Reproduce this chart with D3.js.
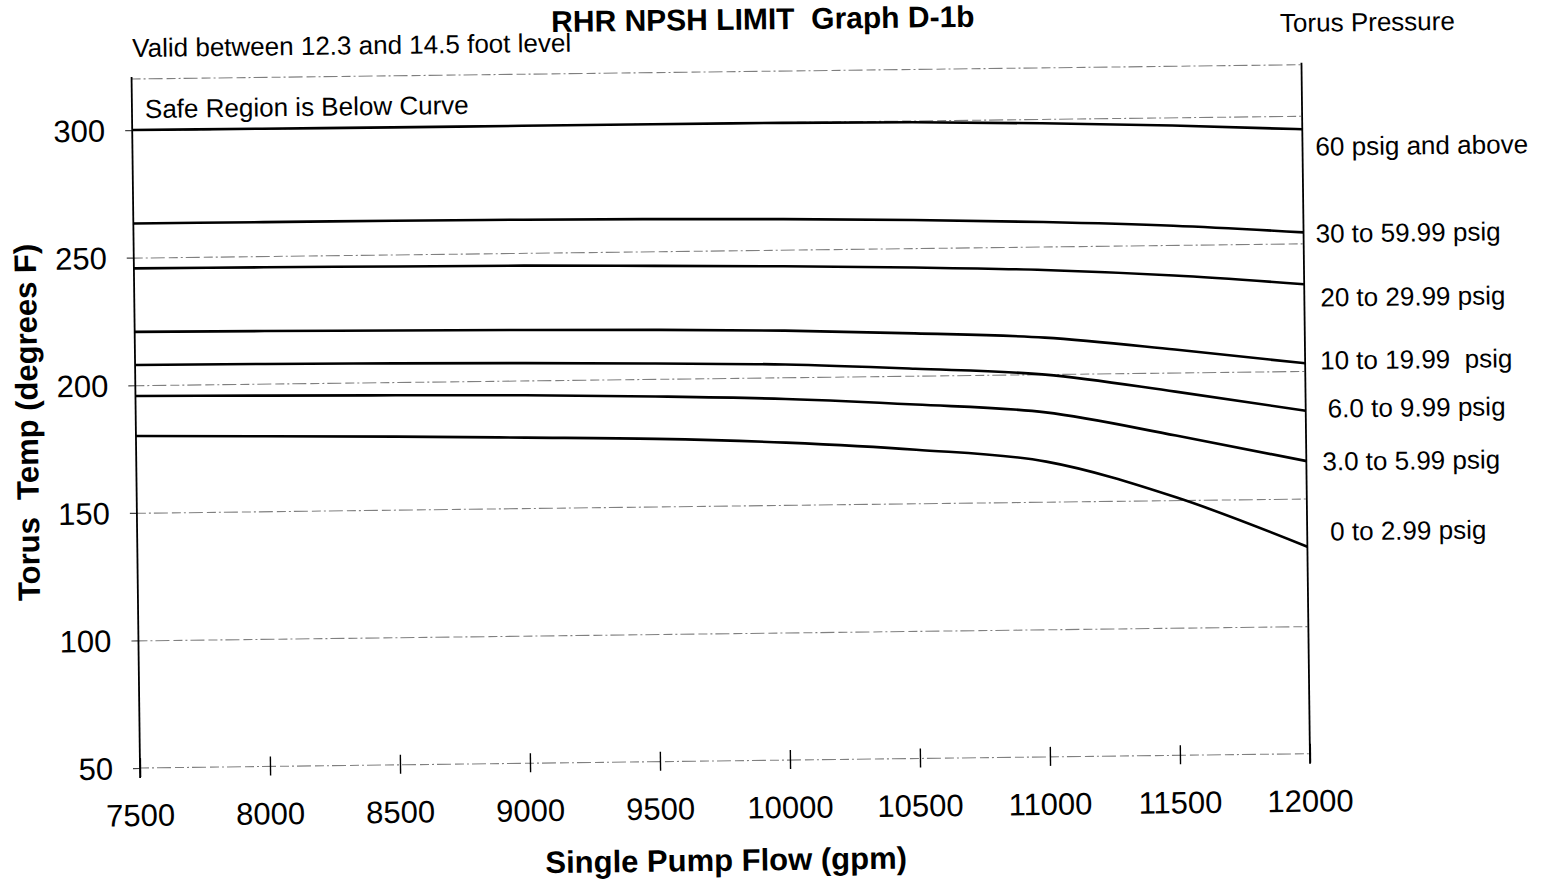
<!DOCTYPE html>
<html>
<head>
<meta charset="utf-8">
<script src="https://cdn.jsdelivr.net/npm/d3@7/dist/d3.min.js"></script>
<style>
  html, body { margin: 0; padding: 0; background: #fff; overflow: hidden; }
  svg { display: block; font-family: "Liberation Sans", Arial, Helvetica, sans-serif; }
</style>
</head>
<body>
<svg id="chart" width="1543" height="889"></svg>
<script>
// Single pump flow (gpm) at which each curve is defined
const flows = [7500, 8000, 8500, 9000, 9500, 10000, 10500, 11000, 11500, 12000];

// Torus temperature limit (degrees F) for each torus pressure band
const temp60  = [300.0, 299.9, 299.8, 299.8, 299.8, 299.7, 299.3, 298.3, 296.8, 294.7];
const temp30  = [263.4, 263.3, 263.2, 263.0, 262.6, 262.0, 261.0, 259.6, 257.5, 254.3];
const temp20  = [245.8, 245.6, 245.3, 245.0, 244.3, 243.5, 242.4, 240.8, 238.0, 234.0];
const temp10  = [220.9, 220.6, 220.2, 219.8, 219.2, 218.3, 216.6, 214.3, 209.0, 203.0];
const temp6   = [207.9, 207.7, 207.3, 206.8, 206.0, 205.0, 202.7, 199.8, 192.5, 184.4];
const temp3   = [195.8, 195.3, 194.8, 194.2, 193.1, 191.5, 188.7, 185.0, 175.3, 164.7];
const temp0   = [180.1, 179.4, 178.6, 177.6, 176.5, 174.4, 171.0, 165.7, 151.0, 131.1];

const pressureLabels = [
  "60 psig and above", "30 to 59.99 psig", "20 to 29.99 psig",
  "10 to 19.99  psig", "6.0 to 9.99 psig", "3.0 to 5.99 psig", "0 to 2.99 psig"
];

const xTicks = [7500, 8000, 8500, 9000, 9500, 10000, 10500, 11000, 11500, 12000];
const yTicks = [50, 100, 150, 200, 250, 300];
const yGrid  = [100, 150, 200, 250, 300];

const title      = "RHR NPSH LIMIT  Graph D-1b";
const subtitle   = "Valid between 12.3 and 14.5 foot level";
const note       = "Safe Region is Below Curve";
const legendHead = "Torus Pressure";
const xTitle     = "Single Pump Flow (gpm)";
const yTitle     = "Torus  Temp (degrees F)";

// ---- layout ----
const left = 140, right = 1310, bottom = 768;
const pxPerDeg = 2.552;
const yMin = 50, yMax = 320;

const x = d3.scaleLinear().domain([7500, 12000]).range([left, right]);
const y = d3.scaleLinear().domain([yMin, yMax]).range([bottom, bottom - (yMax - yMin) * pxPerDeg]);

const svg = d3.select("#chart");
svg.append("rect").attr("width", 1543).attr("height", 889).attr("fill", "#fff");

// the whole sheet sits slightly tilted
const g = svg.append("g").attr("transform", `rotate(-0.70, ${left}, ${bottom})`);

const gridStyle = sel => sel
  .attr("stroke", "#555").attr("stroke-width", 1.1)
  .attr("stroke-dasharray", "9 3 2 3 14 4").attr("opacity", 0.75);

// horizontal gridlines
g.append("g").attr("class", "grid")
  .attr("transform", `translate(${left},0)`)
  .call(d3.axisLeft(y).tickValues(yGrid).tickSize(-(right - left)).tickFormat(""))
  .call(s => s.select(".domain").remove())
  .call(s => s.selectAll("line").call(gridStyle));

// top frame line
g.append("line")
  .attr("x1", left).attr("x2", right).attr("y1", y(yMax)).attr("y2", y(yMax))
  .call(gridStyle);

// bottom line at 50 F with crossing tick marks
const xAxis = g.append("g")
  .attr("transform", `translate(0,${y(50)})`)
  .call(d3.axisBottom(x).tickValues(xTicks).tickSize(9).tickFormat(""));
xAxis.select(".domain").call(gridStyle).attr("d", `M${left},0H${right}`);
xAxis.selectAll(".tick line")
  .attr("y1", -10).attr("y2", 9)
  .attr("stroke", "#000").attr("stroke-width", 1.4);

// x tick labels
g.append("g").selectAll("text").data(xTicks).join("text")
  .attr("x", d => x(d)).attr("y", bottom + 58)
  .attr("text-anchor", "middle").attr("font-size", 31)
  .text(d => d);

// left axis (small outward ticks) and labels
const yAxis = g.append("g")
  .attr("transform", `translate(${left},0)`)
  .call(d3.axisLeft(y).tickValues(yTicks).tickSize(7).tickFormat(""));
yAxis.select(".domain").remove();
yAxis.selectAll(".tick line").attr("stroke", "#444").attr("stroke-width", 1.2);

g.append("g").selectAll("text").data(yTicks).join("text")
  .attr("x", left - 27).attr("y", d => y(d)).attr("dy", "0.36em")
  .attr("text-anchor", "end").attr("font-size", 31)
  .text(d => d);

// frame verticals
[left, right].forEach(px => {
  g.append("line")
    .attr("x1", px).attr("x2", px)
    .attr("y1", y(yMax) - 2).attr("y2", y(yMin) + 10)
    .attr("stroke", "#000").attr("stroke-width", 1.8);
});

// limit curves
const series = [temp60, temp30, temp20, temp10, temp6, temp3, temp0];
const line = d3.line()
  .x((d, i) => x(flows[i]))
  .y(d => y(d))
  .curve(d3.curveMonotoneX);

g.append("g").selectAll("path").data(series).join("path")
  .attr("d", d => line(d))
  .attr("fill", "none").attr("stroke", "#000")
  .attr("stroke-width", 2.6).attr("stroke-linejoin", "round");

// pressure band labels to the right of the frame
const labelPos = [
  [1323, 170], [1322, 257], [1326, 321], [1325, 384],
  [1332, 432], [1326, 485], [1333, 555]
];
g.append("g").selectAll("text").data(pressureLabels).join("text")
  .attr("x", (d, i) => labelPos[i][0]).attr("y", (d, i) => labelPos[i][1])
  .attr("font-size", 26).style("white-space", "pre")
  .text(d => d);

// headings and notes
g.append("text").attr("x", 1289).attr("y", 46).attr("font-size", 26).text(legendHead);
g.append("text").attr("x", 141).attr("y", 57).attr("font-size", 26).text(subtitle);
g.append("text").attr("x", 153).attr("y", 118).attr("font-size", 26).text(note);

g.append("text")
  .attr("x", 772).attr("y", 37)
  .attr("text-anchor", "middle").attr("font-size", 30).attr("font-weight", "bold")
  .style("white-space", "pre")
  .text(title);

g.append("text")
  .attr("x", 725).attr("y", 878)
  .attr("text-anchor", "middle").attr("font-size", 31).attr("font-weight", "bold")
  .text(xTitle);

g.append("text")
  .attr("transform", "translate(42,421) rotate(-90)")
  .attr("text-anchor", "middle").attr("font-size", 31).attr("font-weight", "bold")
  .style("white-space", "pre")
  .text(yTitle);
</script>
</body>
</html>
